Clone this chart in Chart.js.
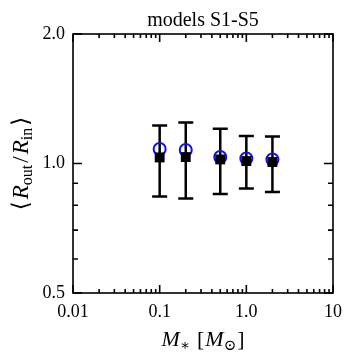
<!DOCTYPE html>
<html>
<head>
<meta charset="utf-8">
<script src="https://cdn.jsdelivr.net/npm/chart.js@4.4.1/dist/chart.umd.min.js"></script>
<style>
  html, body { margin: 0; padding: 0; background: #ffffff; }
  #wrap { width: 354px; height: 363px; }
</style>
</head>
<body>
<div id="wrap"><canvas id="c" width="354" height="363"></canvas></div>
<script>
// ---- data ----
const masses      = [0.1, 0.2, 0.5, 1.0, 2.0];          // M_* [M_sun]
const meanRatio   = [1.033, 1.035, 1.022, 1.013, 1.008]; // black squares
const errLow      = [0.838, 0.829, 0.849, 0.875, 0.858]; // error bar lower ends
const errHigh     = [1.226, 1.245, 1.204, 1.159, 1.155]; // error bar upper ends
const altRatio    = [1.081, 1.075, 1.035, 1.027, 1.022]; // blue open circles
const xTickValues = [0.01, 0.1, 1.0, 10];
const xTickLabels = ['0.01', '0.1', '1.0', '10'];
const yTickValues = [0.5, 1.0, 2.0];
const yTickLabels = ['0.5', '1.0', '2.0'];
const xMinorValues = [0.02,0.03,0.04,0.05,0.06,0.07,0.08,0.09,0.2,0.3,0.4,0.5,0.6,0.7,0.8,0.9,2,3,4,5,6,7,8,9];
const yMinorValues = [0.6, 0.7, 0.8, 0.9];
const titleText = 'models S1-S5';

const SERIF = "'Liberation Serif', 'DejaVu Serif', serif";

const errorBarPlugin = {
  id: 'errorBars',
  beforeDatasetsDraw(chart) {
    const ctx = chart.ctx, xs = chart.scales.x, ys = chart.scales.y;
    ctx.save();
    ctx.strokeStyle = '#000';
    ctx.lineWidth = 2.5;
    const cap = 7.5;
    masses.forEach((m, i) => {
      const px = xs.getPixelForValue(m);
      const y1 = ys.getPixelForValue(errLow[i]);
      const y2 = ys.getPixelForValue(errHigh[i]);
      ctx.beginPath();
      ctx.moveTo(px, y1); ctx.lineTo(px, y2);
      ctx.moveTo(px - cap, y1); ctx.lineTo(px + cap, y1);
      ctx.moveTo(px - cap, y2); ctx.lineTo(px + cap, y2);
      ctx.stroke();
    });
    ctx.restore();
  }
};

function drawRich(ctx, parts, x, y, base, subSize, subDrop) {
  const fontFor = p => (p.italic ? 'italic ' : '') + (p.sub ? subSize : base) + 'px ' + SERIF;
  let total = 0;
  parts.forEach(p => { ctx.font = fontFor(p); p.w = ctx.measureText(p.t).width; total += p.w + (p.gap || 0); });
  let cx = x - total / 2;
  ctx.textBaseline = 'alphabetic';
  ctx.textAlign = 'left';
  parts.forEach(p => {
    ctx.font = fontFor(p);
    ctx.fillText(p.t, cx, y + (p.sub ? subDrop : 0));
    cx += p.w + (p.gap || 0);
  });
}

const framePlugin = {
  id: 'frameTicks',
  afterDraw(chart) {
    const ctx = chart.ctx, a = chart.chartArea, xs = chart.scales.x, ys = chart.scales.y;
    ctx.save();
    ctx.strokeStyle = '#000';
    ctx.lineWidth = 1.6;
    ctx.strokeRect(a.left, a.top, a.right - a.left, a.bottom - a.top);
    ctx.beginPath();
    const xt = (v, len) => {
      const px = xs.getPixelForValue(v);
      ctx.moveTo(px, a.bottom); ctx.lineTo(px, a.bottom - len);
      ctx.moveTo(px, a.top); ctx.lineTo(px, a.top + len);
    };
    const yt = (v, len) => {
      const py = ys.getPixelForValue(v);
      ctx.moveTo(a.left, py); ctx.lineTo(a.left + len, py);
      ctx.moveTo(a.right, py); ctx.lineTo(a.right - len, py);
    };
    xTickValues.forEach(v => xt(v, 8));
    xMinorValues.forEach(v => xt(v, 4));
    yTickValues.forEach(v => yt(v, 9));
    yMinorValues.forEach(v => yt(v, 5));
    ctx.stroke();

    // title
    ctx.fillStyle = '#000';
    ctx.font = '20px ' + SERIF;
    ctx.textAlign = 'center';
    ctx.textBaseline = 'alphabetic';
    ctx.fillText(titleText, (a.left + a.right) / 2, 26);

    // x axis title
    drawRich(ctx, [
      {t: 'M', italic: true},
      {t: '\u2217', sub: true, gap: 7},
      {t: '[', gap: 1},
      {t: 'M', italic: true},
      {t: '\u2299', sub: true, gap: 1},
      {t: ']'}
    ], (a.left + a.right) / 2, 346, 22, 15, 4);

    // y axis title (rotated)
    ctx.save();
    ctx.translate(28, (a.top + a.bottom) / 2);
    ctx.rotate(-Math.PI / 2);
    drawRich(ctx, [
      {t: '\u27E8', gap: 2},
      {t: 'R', italic: true},
      {t: 'out', sub: true, gap: 2},
      {t: '/', gap: 2},
      {t: 'R', italic: true},
      {t: 'in', sub: true, gap: 2},
      {t: '\u27E9'}
    ], 0, 0, 23, 16, 4);
    ctx.restore();
    ctx.restore();
  }
};

new Chart(document.getElementById('c'), {
  type: 'scatter',
  data: {
    datasets: [
      {
        label: 'mean',
        data: masses.map((m, i) => ({x: m, y: meanRatio[i]})),
        pointStyle: 'rect',
        pointRadius: 7,
        pointHoverRadius: 7,
        backgroundColor: '#000',
        borderColor: '#000',
        borderWidth: 0
      },
      {
        label: 'alt',
        data: masses.map((m, i) => ({x: m, y: altRatio[i]})),
        pointStyle: 'circle',
        pointRadius: 6,
        pointHoverRadius: 6,
        backgroundColor: 'rgba(0,0,0,0)',
        borderColor: '#1010ee',
        borderWidth: 2
      }
    ]
  },
  options: {
    responsive: false,
    animation: false,
    devicePixelRatio: 1,
    layout: { padding: { top: 34, right: 21, left: 0, bottom: 0 } },
    plugins: { legend: { display: false }, title: { display: false }, tooltip: { enabled: false } },
    scales: {
      x: {
        type: 'logarithmic',
        min: 0.01, max: 10,
        grid: { display: false, drawTicks: false },
        border: { display: false },
        afterBuildTicks: s => { s.ticks = xTickValues.map(v => ({value: v})); },
        afterFit: s => { s.height = 70; },
        ticks: {
          autoSkip: false, maxRotation: 0, padding: 8, color: '#000',
          font: { family: SERIF, size: 18 },
          callback: (v) => { const i = xTickValues.indexOf(v); return i >= 0 ? xTickLabels[i] : ''; }
        }
      },
      y: {
        type: 'logarithmic',
        min: 0.5, max: 2.0,
        grid: { display: false, drawTicks: false },
        border: { display: false },
        afterBuildTicks: s => { s.ticks = yTickValues.map(v => ({value: v})); },
        afterFit: s => { s.width = 73; },
        ticks: {
          autoSkip: false, padding: 8, color: '#000',
          font: { family: SERIF, size: 18 },
          callback: (v) => { const i = yTickValues.indexOf(v); return i >= 0 ? yTickLabels[i] : ''; }
        }
      }
    }
  },
  plugins: [errorBarPlugin, framePlugin]
});
</script>
</body>
</html>
